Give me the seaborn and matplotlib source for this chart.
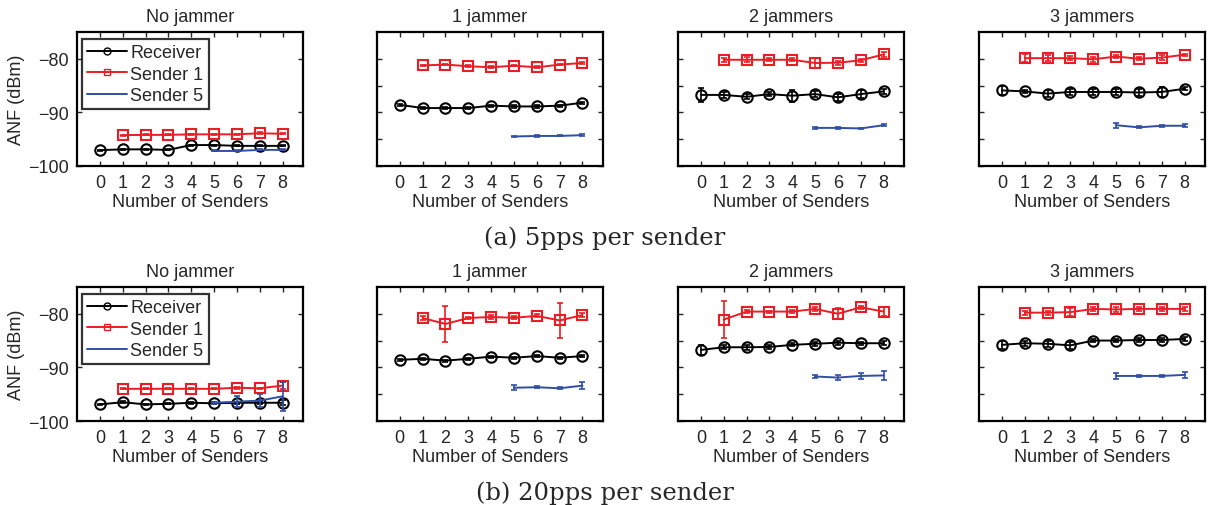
import numpy as np
import pandas as pd
import seaborn as sns
import matplotlib.pyplot as plt
from matplotlib.lines import Line2D

# ----------------------------------------
# DATA
# ----------------------------------------

panel_titles = ["No jammer", "1 jammer", "2 jammers", "3 jammers"]
row_captions = ["(a) 5pps per sender", "(b) 20pps per sender"]

x_receiver = [0, 1, 2, 3, 4, 5, 6, 7, 8]
x_sender1 = [1, 2, 3, 4, 5, 6, 7, 8]
x_sender5 = [5, 6, 7, 8]

# (a) 5pps per sender
a_receiver = [
    [-97.05, -96.9, -96.9, -97.0, -96.1, -96.1, -96.25, -96.25, -96.25],
    [-88.6, -89.2, -89.2, -89.2, -88.75, -88.9, -88.9, -88.75, -88.2],
    [-86.75, -86.75, -87.1, -86.6, -86.9, -86.6, -87.2, -86.6, -86.1],
    [-85.9, -86.1, -86.5, -86.2, -86.2, -86.2, -86.3, -86.2, -85.6],
]
a_receiver_err = [
    [0.1, 0.1, 0.1, 0.1, 0.1, 0.1, 0.1, 0.1, 0.1],
    [0.2, 0.2, 0.2, 0.2, 0.2, 0.2, 0.2, 0.2, 0.2],
    [1.3, 0.5, 0.5, 0.3, 1.1, 0.6, 0.7, 0.8, 0.5],
    [0.9, 0.3, 0.7, 0.5, 0.5, 0.5, 0.7, 0.9, 0.3],
]
a_sender1 = [
    [-94.25, -94.2, -94.2, -94.1, -94.1, -94.1, -93.9, -94.0],
    [-81.25, -81.1, -81.4, -81.6, -81.3, -81.6, -81.1, -80.8],
    [-80.2, -80.2, -80.2, -80.2, -80.8, -80.75, -80.3, -79.2],
    [-79.9, -79.9, -79.9, -80.1, -79.6, -80.0, -79.8, -79.25],
]
a_sender1_err = [
    [0.1, 0.1, 0.1, 0.1, 0.1, 0.1, 0.15, 0.1],
    [0.15, 0.15, 0.15, 0.15, 0.15, 0.15, 0.15, 0.15],
    [0.4, 0.5, 0.3, 0.3, 1.0, 0.4, 0.3, 0.4],
    [0.8, 0.5, 0.4, 0.5, 0.2, 0.3, 0.4, 0.2],
]
a_sender5 = [
    [-97.2, -97.2, -97.0, -97.0],
    [-94.5, -94.4, -94.4, -94.25],
    [-92.9, -92.9, -93.0, -92.4],
    [-92.4, -92.8, -92.5, -92.5],
]
a_sender5_err = [
    [0.1, 0.1, 0.1, 0.1],
    [0.1, 0.15, 0.1, 0.15],
    [0.15, 0.2, 0.1, 0.15],
    [0.5, 0.2, 0.2, 0.3],
]

# (b) 20pps per sender
b_receiver = [
    [-96.9, -96.5, -96.9, -96.8, -96.6, -96.7, -96.6, -96.6, -96.6],
    [-88.6, -88.4, -88.75, -88.4, -88.0, -88.2, -87.9, -88.2, -87.9],
    [-86.75, -86.25, -86.25, -86.2, -85.8, -85.6, -85.4, -85.5, -85.5],
    [-85.8, -85.5, -85.6, -85.9, -85.0, -85.0, -84.9, -84.9, -84.7],
]
b_receiver_err = [
    [0.1, 0.2, 0.1, 0.1, 0.2, 0.2, 0.2, 0.3, 0.5],
    [0.2, 0.2, 0.2, 0.2, 0.2, 0.2, 0.2, 0.2, 0.2],
    [1.0, 0.4, 0.5, 0.4, 0.3, 0.4, 0.4, 0.3, 0.4],
    [0.7, 0.5, 0.6, 0.6, 0.3, 0.3, 0.3, 0.3, 0.3],
]
b_sender1 = [
    [-94.0, -94.0, -94.0, -94.0, -94.0, -93.8, -93.9, -93.4],
    [-80.8, -81.9, -80.8, -80.6, -80.75, -80.4, -81.25, -80.25],
    [-81.1, -79.6, -79.6, -79.6, -79.1, -80.0, -78.8, -79.6],
    [-79.8, -79.8, -79.7, -79.1, -79.2, -79.1, -79.1, -79.1],
]
b_sender1_err = [
    [0.1, 0.1, 0.1, 0.1, 0.1, 0.2, 0.1, 0.7],
    [0.3, 3.4, 0.2, 0.3, 0.3, 0.3, 3.3, 0.3],
    [3.5, 0.3, 0.2, 0.3, 0.3, 1.0, 0.3, 0.8],
    [0.4, 0.4, 0.8, 0.3, 0.4, 0.4, 0.4, 0.4],
]
b_sender5 = [
    [-96.6, -96.4, -96.2, -95.4],
    [-93.8, -93.7, -93.9, -93.4],
    [-91.7, -91.9, -91.6, -91.5],
    [-91.6, -91.6, -91.6, -91.4],
]
b_sender5_err = [
    [0.2, 1.0, 1.2, 2.7],
    [0.5, 0.2, 0.2, 0.7],
    [0.3, 0.4, 0.5, 0.8],
    [0.5, 0.2, 0.2, 0.5],
]

rows = [
    (a_receiver, a_receiver_err, a_sender1, a_sender1_err, a_sender5, a_sender5_err),
    (b_receiver, b_receiver_err, b_sender1, b_sender1_err, b_sender5, b_sender5_err),
]

# ----------------------------------------
# STYLE
# ----------------------------------------

sns.set_theme(style="ticks")
plt.rcParams["font.family"] = ["Liberation Sans", "DejaVu Sans"]
plt.rcParams["font.size"] = 13

c_recv = "black"
c_s1 = "#ec1c24"
c_s5 = "#2f4fa6"

fig = plt.figure(figsize=(12.09, 5.06), dpi=100)

col_left = [0.0637, 0.3118, 0.5608, 0.8098]
row_bottom = [0.670, 0.166]
ax_w, ax_h = 0.187, 0.265
fs = 13


def draw_series(ax, xs, ys, errs, color, marker, ms):
    df = pd.DataFrame({"x": xs, "y": ys})
    sns.lineplot(data=df, x="x", y="y", ax=ax, color=color, linewidth=1.4,
                 marker=marker, markersize=ms, markerfacecolor="none",
                 markeredgecolor=color, markeredgewidth=1.5)
    ax.errorbar(xs, ys, yerr=errs, fmt="none", ecolor=color,
                elinewidth=1.2, capsize=2.5, capthick=1.2)


for r, (recv, recv_e, s1, s1_e, s5, s5_e) in enumerate(rows):
    for c in range(4):
        ax = fig.add_axes([col_left[c], row_bottom[r], ax_w, ax_h])
        draw_series(ax, x_receiver, recv[c], recv_e[c], c_recv, "o", 7.5)
        draw_series(ax, x_sender1, s1[c], s1_e[c], c_s1, "s", 6.5)
        draw_series(ax, x_sender5, s5[c], s5_e[c], c_s5, None, 0)

        ax.set_xlim(-1, 8.9)
        ax.set_ylim(-100, -75)
        ax.set_xticks(range(9))
        ax.tick_params(direction="in", top=True, right=True, length=3.5,
                       width=1.0, labelsize=fs, pad=6)
        for sp in ax.spines.values():
            sp.set_linewidth(1.6)
            sp.set_color("black")
        ax.set_title(panel_titles[c], fontsize=fs, pad=8)
        ax.set_xlabel("Number of Senders", fontsize=fs, labelpad=1)
        if c == 0:
            ax.set_yticks([-100, -90, -80])
            ax.set_ylabel("ANF (dBm)", fontsize=fs, labelpad=2)
            handles = [
                Line2D([], [], color=c_recv, lw=1.4, marker="o", ms=5,
                       mfc="none", mec=c_recv),
                Line2D([], [], color=c_s1, lw=1.4, marker="s", ms=4,
                       mfc="none", mec=c_s1),
                Line2D([], [], color=c_s5, lw=1.4),
            ]
            leg = ax.legend(handles, ["Receiver", "Sender 1", "Sender 5"],
                            loc="upper left", bbox_to_anchor=(0.02, 0.95),
                            fontsize=fs, frameon=True, fancybox=False,
                            handlelength=2.2, handletextpad=0.2,
                            borderpad=0.3, labelspacing=0.25,
                            borderaxespad=0.0)
            leg.get_frame().set_edgecolor("black")
            leg.get_frame().set_linewidth(1.6)
        else:
            ax.set_yticks([-100, -95, -90, -85, -80])
            ax.set_yticklabels([])
            ax.set_ylabel("")

    fig.text(0.5, row_bottom[r] - 0.14, row_captions[r], ha="center",
             va="center", fontsize=17.5,
             family=["DejaVu Serif", "Liberation Serif"])

fig.savefig("out.png", dpi=100)
